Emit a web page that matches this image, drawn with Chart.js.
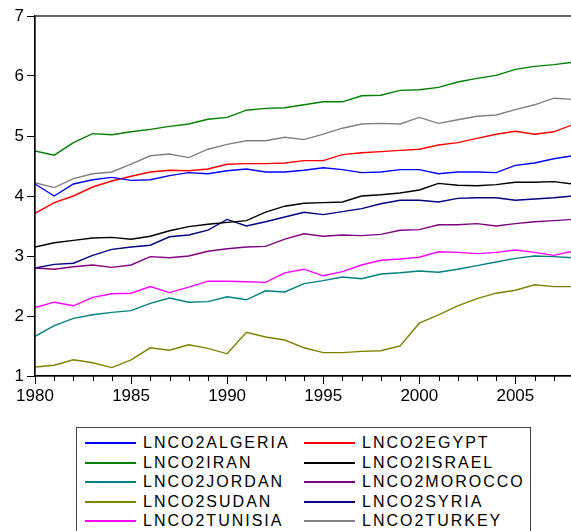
<!DOCTYPE html>
<html>
<head>
<meta charset="utf-8">
<script src="https://cdn.jsdelivr.net/npm/chart.js@4/dist/chart.umd.min.js"></script>
<style>
  html, body { margin: 0; padding: 0; background: #fff; overflow: hidden; width: 571px; height: 531px; }
  #wrap { position: relative; width: 571px; height: 531px; }
  #myChart { position: absolute; left: 0; top: 0; }
  #legend {
    position: absolute; left: 76px; top: 427px; width: 455px; height: 120px;
    border: 1px solid #444; box-sizing: border-box;
    font-family: "Liberation Sans", Arial, sans-serif; font-size: 16px; letter-spacing: 2px;
  }
  .item { position: absolute; height: 20px; line-height: 20px; white-space: nowrap; }
  .item span.ln { position: absolute; left: 0; top: 9px; width: 51px; height: 2px; }
  .item span.tx { position: absolute; left: 58px; top: 0; }
</style>
</head>
<body>
<div id="wrap">
  <canvas id="myChart" width="575" height="410"></canvas>
  <div id="legend"></div>
</div>
<script>
// years on the x axis
var years = [];
for (var y = 1980; y <= 2008; y++) years.push(y);

var names = ["LNCO2ALGERIA", "LNCO2EGYPT", "LNCO2IRAN", "LNCO2ISRAEL", "LNCO2JORDAN",
             "LNCO2MOROCCO", "LNCO2SUDAN", "LNCO2SYRIA", "LNCO2TUNISIA", "LNCO2TURKEY"];
var colors = ["#0000ff", "#ff0000", "#008000", "#000000", "#008080",
              "#800080", "#808000", "#000080", "#ff00ff", "#808080"];

// values, 1980..2008
var algeria = [4.20, 4.00, 4.20, 4.27, 4.31, 4.26, 4.27, 4.34, 4.39, 4.37, 4.42, 4.45, 4.40, 4.40, 4.43,
               4.47, 4.44, 4.39, 4.40, 4.44, 4.44, 4.37, 4.40, 4.40, 4.39, 4.51, 4.55, 4.62, 4.67];
var egypt   = [3.71, 3.89, 4.00, 4.15, 4.25, 4.33, 4.40, 4.43, 4.42, 4.45, 4.53, 4.54, 4.54, 4.55, 4.59,
               4.59, 4.69, 4.72, 4.74, 4.76, 4.78, 4.85, 4.89, 4.96, 5.03, 5.08, 5.03, 5.07, 5.19];
var iran    = [4.75, 4.68, 4.89, 5.04, 5.02, 5.07, 5.11, 5.16, 5.20, 5.28, 5.31, 5.43, 5.46, 5.47, 5.52,
               5.57, 5.57, 5.67, 5.68, 5.76, 5.77, 5.81, 5.90, 5.96, 6.01, 6.11, 6.16, 6.19, 6.23];
var israel  = [3.15, 3.22, 3.26, 3.30, 3.31, 3.28, 3.33, 3.42, 3.49, 3.53, 3.56, 3.59, 3.73, 3.83, 3.88,
               3.89, 3.90, 4.00, 4.02, 4.05, 4.10, 4.21, 4.18, 4.17, 4.19, 4.23, 4.23, 4.24, 4.20];
var jordan  = [1.66, 1.84, 1.96, 2.02, 2.06, 2.09, 2.21, 2.30, 2.23, 2.24, 2.32, 2.27, 2.42, 2.40, 2.54,
               2.59, 2.65, 2.62, 2.70, 2.72, 2.75, 2.73, 2.78, 2.84, 2.90, 2.96, 3.00, 2.99, 2.97];
var morocco = [2.80, 2.78, 2.82, 2.85, 2.81, 2.85, 2.99, 2.97, 3.00, 3.08, 3.12, 3.15, 3.16, 3.28, 3.37,
               3.33, 3.35, 3.34, 3.36, 3.43, 3.44, 3.52, 3.52, 3.54, 3.50, 3.54, 3.57, 3.59, 3.61];
var sudan   = [1.15, 1.18, 1.27, 1.22, 1.14, 1.27, 1.47, 1.43, 1.52, 1.46, 1.37, 1.73, 1.65, 1.60, 1.47,
               1.39, 1.39, 1.41, 1.42, 1.50, 1.88, 2.02, 2.17, 2.29, 2.38, 2.43, 2.52, 2.49, 2.49];
var syria   = [2.80, 2.86, 2.88, 3.01, 3.11, 3.15, 3.18, 3.32, 3.35, 3.43, 3.61, 3.50, 3.57, 3.65, 3.73,
               3.69, 3.74, 3.79, 3.87, 3.93, 3.93, 3.90, 3.96, 3.97, 3.97, 3.93, 3.95, 3.97, 4.00];
var tunisia = [2.14, 2.23, 2.17, 2.31, 2.37, 2.38, 2.49, 2.39, 2.48, 2.58, 2.58, 2.57, 2.56, 2.72, 2.78,
               2.67, 2.74, 2.85, 2.93, 2.95, 2.98, 3.07, 3.06, 3.04, 3.06, 3.10, 3.06, 3.01, 3.08];
var turkey  = [4.22, 4.14, 4.29, 4.37, 4.40, 4.53, 4.67, 4.70, 4.64, 4.78, 4.86, 4.92, 4.92, 4.98, 4.94,
               5.03, 5.13, 5.20, 5.21, 5.20, 5.31, 5.21, 5.27, 5.33, 5.35, 5.44, 5.52, 5.63, 5.61];

var series = [algeria, egypt, iran, israel, jordan, morocco, sudan, syria, tunisia, turkey];

var datasets = [];
for (var i = 0; i < series.length; i++) {
  datasets.push({
    label: names[i],
    data: series[i].map(function (v, k) { return { x: years[k], y: v }; }),
    borderColor: colors[i],
    backgroundColor: colors[i],
    borderWidth: 1.4,
    pointRadius: 0,
    tension: 0,
    fill: false
  });
}

// frame round the plot + short minor ticks on the year axis
var framePlugin = {
  id: 'frame',
  afterDraw: function (chart) {
    var c = chart.ctx, a = chart.chartArea, xs = chart.scales.x;
    c.save();
    c.strokeStyle = '#000';
    c.lineWidth = 1.2;
    c.strokeRect(a.left, a.top, a.right - a.left, a.bottom - a.top);
    c.lineWidth = 1;
    c.beginPath();
    for (var k = 0; k < years.length; k++) {
      if (years[k] % 5 === 0) continue;
      var px = Math.round(xs.getPixelForValue(years[k])) + 0.5;
      c.moveTo(px, a.bottom);
      c.lineTo(px, a.bottom + 5);
    }
    c.stroke();
    c.restore();
  }
};

var tickFont = { family: '"Liberation Sans", Arial, sans-serif', size: 17 };

var ctx = document.getElementById('myChart').getContext('2d');
var chart = new Chart(ctx, {
  type: 'line',
  data: { datasets: datasets },
  plugins: [framePlugin],
  options: {
    responsive: false,
    animation: false,
    layout: { padding: { top: 16, right: 1, left: 0, bottom: 0 } },
    plugins: { legend: { display: false }, tooltip: { enabled: false } },
    scales: {
      x: {
        type: 'linear',
        min: 1980,
        max: 2008,
        afterFit: function (s) { s.height = 34; },
        border: { display: true, color: '#000', width: 1.2 },
        grid: {
          drawOnChartArea: false,
          drawTicks: true,
          tickLength: 8,
          color: function (c) { return (c.tick && c.tick.value % 5 === 0) ? '#000' : 'rgba(0,0,0,0)'; }
        },
        ticks: {
          stepSize: 1,
          autoSkip: false,
          maxRotation: 0,
          padding: 2,
          color: '#000',
          font: tickFont,
          callback: function (v) { return v % 5 === 0 ? String(v) : ''; }
        }
      },
      y: {
        min: 1,
        max: 7,
        afterFit: function (s) { s.width = 35; },
        border: { display: true, color: '#000', width: 1.2 },
        grid: { drawOnChartArea: false, drawTicks: true, tickLength: 8, color: '#000' },
        ticks: { stepSize: 1, padding: 3, color: '#000', font: tickFont }
      }
    }
  }
});

// legend box, two columns
var legend = document.getElementById('legend');
var rowsY = [5, 24.5, 44, 63.5, 83];
for (var j = 0; j < datasets.length; j++) {
  var col = j % 2, row = Math.floor(j / 2);
  var item = document.createElement('div');
  item.className = 'item';
  item.style.left = (col === 0 ? 8 : 227) + 'px';
  item.style.top = rowsY[row] + 'px';
  var ln = document.createElement('span');
  ln.className = 'ln';
  ln.style.background = datasets[j].borderColor;
  var tx = document.createElement('span');
  tx.className = 'tx';
  tx.textContent = datasets[j].label;
  item.appendChild(ln);
  item.appendChild(tx);
  legend.appendChild(item);
}
</script>
</body>
</html>
